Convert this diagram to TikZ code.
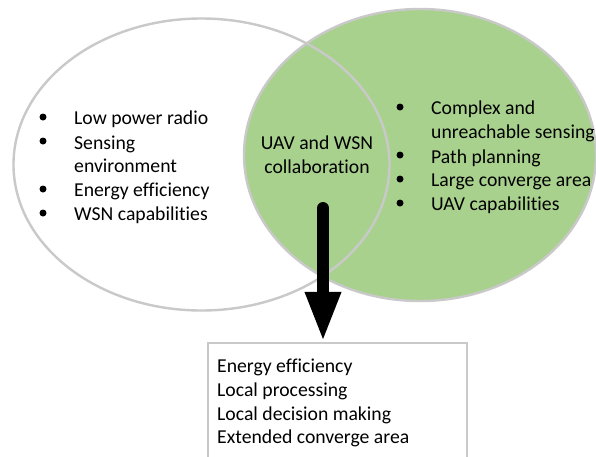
\documentclass[tikz,border=0pt]{standalone}
\usepackage{fontspec}
\setmainfont[Ligatures=NoCommon]{Carlito}
\usetikzlibrary{arrows.meta}
\definecolor{vennline}{HTML}{C9C9C9}
\definecolor{venngreen}{HTML}{A9D18E}
\tikzset{
  venn/.style={draw=vennline,line width=2.4pt},
  txt/.style={anchor=base west,inner sep=0pt,yshift=-1.5pt,font=\fontsize{19.7}{24}\selectfont},
  ctxt/.style={anchor=base,inner sep=0pt,yshift=-1.5pt,font=\fontsize{19.7}{24}\selectfont},
  bul/.style={circle,fill=black,inner sep=0pt,minimum size=7pt},
  outbox/.style={draw=vennline,line width=2.4pt,fill=white,minimum width=259pt,minimum height=120pt,inner sep=0pt},
  bigarrow/.style={line width=12pt,line cap=round,-{Triangle[width=33pt,length=50pt]}}
}
\begin{document}
\begin{tikzpicture}[x=1pt,y=-1pt]
\useasboundingbox (0,0) rectangle (596,456);
\clip (0,0) rectangle (596,456);
\fill[white] (0,0) rectangle (596,456);
\path[venn,fill=venngreen] (420,155) ellipse [x radius=176,y radius=146];
\path[venn] (201.5,164.5) ellipse [x radius=188,y radius=146];
% left list
\node[bul] (bl1) at (43,117) {};
\node[bul] (bl2) at (43,141) {};
\node[bul] (bl3) at (43,189) {};
\node[bul] (bl4) at (43,213) {};
\node[txt] (l1) at (74,123) {Low power radio};
\node[txt] (l2) at (74,147.5) {Sensing};
\node[txt] (l2b) at (74,171) {environment};
\node[txt] (l3) at (74,195) {Energy efficiency};
\node[txt] (l4) at (74,218.5) {WSN capabilities};
% right list
\node[bul] (br1) at (400,107) {};
\node[bul] (br2) at (400,155) {};
\node[bul] (br3) at (400,179) {};
\node[bul] (br4) at (400,203) {};
\node[txt] (r1) at (431,113) {Complex and};
\node[txt] (r1b) at (431,137) {unreachable sensing};
\node[txt] (r2) at (431,161.5) {Path planning};
\node[txt] (r3) at (431,185) {Large converge area};
\node[txt] (r4) at (431,209) {UAV capabilities};
% centre
\node[ctxt] (c1) at (317,148) {UAV and WSN};
\node[ctxt] (c2) at (317,172) {collaboration};
% box
\node[outbox] (box) at (337.5,403) {};
\node[txt] (b1) at (217,371) {Energy efficiency};
\node[txt] (b2) at (217,395) {Local processing};
\node[txt] (b3) at (217,419) {Local decision making};
\node[txt] (b4) at (217,442) {Extended converge area};
% arrow
\coordinate (astart) at (323,208);
\draw[bigarrow] (astart) -- (astart |- box.north);
\end{tikzpicture}
\end{document}
